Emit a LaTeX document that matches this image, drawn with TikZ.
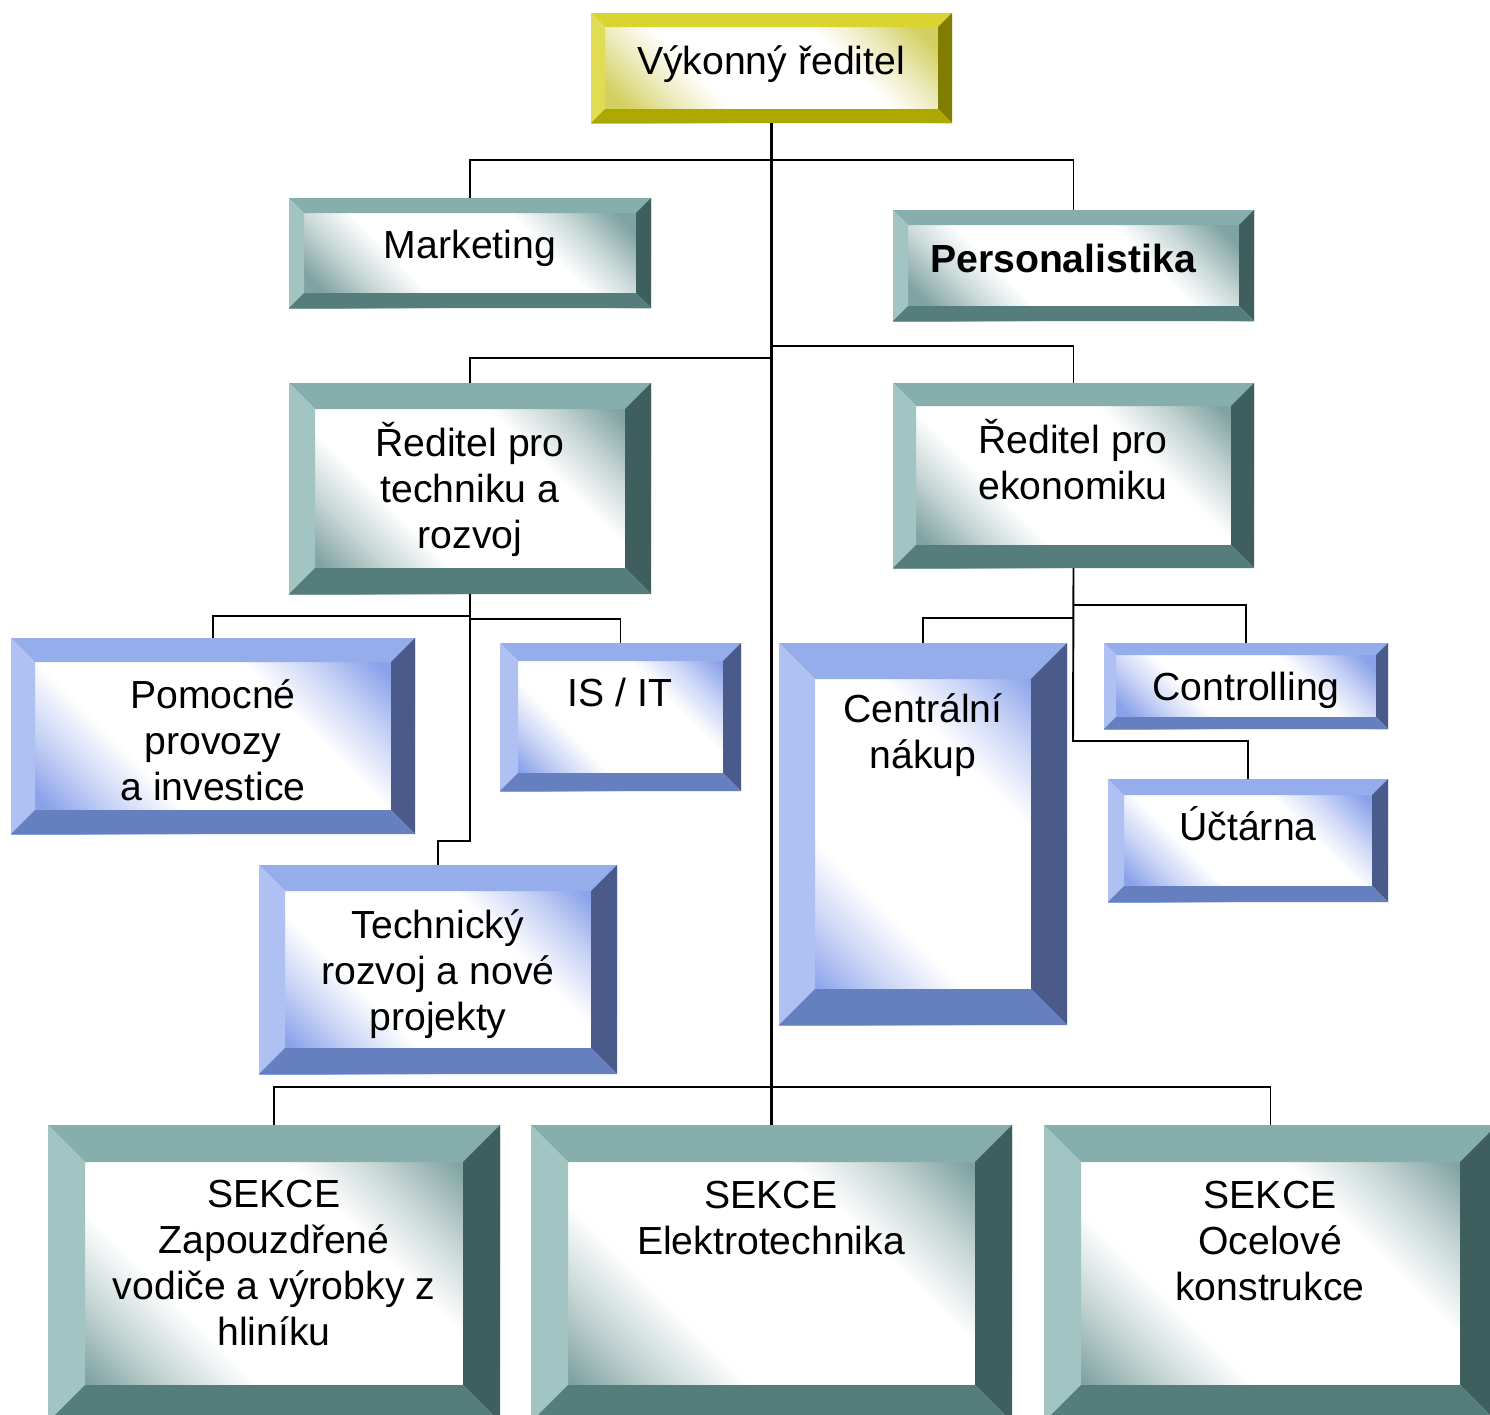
\documentclass[tikz,border=0pt]{standalone}
\usepackage{fontspec}
\setmainfont{Liberation Sans}
\usepackage{tikz}
\usetikzlibrary{positioning,fit,calc}
\definecolor{tltop}{HTML}{86AEAC}
\definecolor{tlleft}{HTML}{A2C4C2}
\definecolor{tlright}{HTML}{3F5E5E}
\definecolor{tlbot}{HTML}{547D7B}
\definecolor{tlgrad}{HTML}{7FA3A1}
\definecolor{bltop}{HTML}{95AEEB}
\definecolor{blleft}{HTML}{AEC1F2}
\definecolor{blright}{HTML}{4A5B8B}
\definecolor{blbot}{HTML}{667FBF}
\definecolor{blgrad}{HTML}{8AA2EA}
\definecolor{yltop}{HTML}{D9D430}
\definecolor{ylleft}{HTML}{E0DD55}
\definecolor{ylright}{HTML}{807D00}
\definecolor{ylbot}{HTML}{ACA800}
\definecolor{ylgrad}{HTML}{D3CF60}
\pgfdeclareverticalshading{tealfade}{100bp}{color(0bp)=(tlgrad); color(22bp)=(tlgrad);
  color(30bp)=(tlgrad!45!white); color(38bp)=(white); color(62bp)=(white);
  color(70bp)=(tlgrad!45!white); color(78bp)=(tlgrad); color(100bp)=(tlgrad)}
\pgfdeclareverticalshading{bluefade}{100bp}{color(0bp)=(blgrad); color(22bp)=(blgrad);
  color(30bp)=(blgrad!45!white); color(38bp)=(white); color(62bp)=(white);
  color(70bp)=(blgrad!45!white); color(78bp)=(blgrad); color(100bp)=(blgrad)}
\pgfdeclareverticalshading{goldfade}{100bp}{color(0bp)=(ylgrad); color(22bp)=(ylgrad);
  color(30bp)=(ylgrad!45!white); color(38bp)=(white); color(62bp)=(white);
  color(70bp)=(ylgrad!45!white); color(78bp)=(ylgrad); color(100bp)=(ylgrad)}
\tikzset{
  bev/.store in=\bevw,
  bev=15,
  bevelbox/.style={
    inner sep=0pt,
    outer sep=0pt,
    path picture={
      \path (path picture bounding box.north west) coordinate (p1)
            (path picture bounding box.north east) coordinate (p2)
            (path picture bounding box.south east) coordinate (p3)
            (path picture bounding box.south west) coordinate (p4);
      \path ([shift={(\bevw,\bevw)}]p1) coordinate (q1)
            ([shift={(-\bevw,\bevw)}]p2) coordinate (q2)
            ([shift={(-\bevw,-\bevw)}]p3) coordinate (q3)
            ([shift={(\bevw,-\bevw)}]p4) coordinate (q4);
      \fill[bvtop] (p1) -- (p2) -- (q2) -- (q1) -- cycle;
      \fill[bvleft] (p1) -- (q1) -- (q4) -- (p4) -- cycle;
      \fill[bvright] (p2) -- (p3) -- (q3) -- (q2) -- cycle;
      \fill[bvbot] (p4) -- (q4) -- (q3) -- (p3) -- cycle;
    }
  },
  tealbox/.style={
    bevelbox,
    shading=tealfade, shading angle=135,
    bvtop/.style={fill=tltop}, bvleft/.style={fill=tlleft},
    bvright/.style={fill=tlright}, bvbot/.style={fill=tlbot}
  },
  bluebox/.style={
    bevelbox,
    shading=bluefade, shading angle=135,
    bvtop/.style={fill=bltop}, bvleft/.style={fill=blleft},
    bvright/.style={fill=blright}, bvbot/.style={fill=blbot}
  },
  goldbox/.style={
    bevelbox,
    shading=goldfade, shading angle=135,
    bvtop/.style={fill=yltop}, bvleft/.style={fill=ylleft},
    bvright/.style={fill=ylright}, bvbot/.style={fill=ylbot}
  },
  boxtext/.style={
    align=center,
    anchor=base,
    inner sep=0pt,
    font=\fontsize{22.3}{26.1}\selectfont
  },
  link/.style={
    draw=black,
    line width=1.1pt
  },
  trunk/.style={
    draw=black,
    line width=1.6pt
  }
}

\begin{document}
\begin{tikzpicture}[x=0.02cm, y=-0.02cm]
  \useasboundingbox (0,0) rectangle (1490,1414);

  % boxes
  \node[goldbox, bev=14, fit={(591,13) (952,123)}] (ceo) {};
  \node[tealbox, bev=15, fit={(289,198) (651,308)}] (mkt) {};
  \node[tealbox, bev=15, fit={(893,210) (1254,321)}] (pers) {};
  \node[tealbox, bev=26, fit={(289,383) (651,594)}] (rtech) {};
  \node[tealbox, bev=23, fit={(893,383) (1254,568)}] (reko) {};
  \node[bluebox, bev=24, fit={(11,638) (415,834)}] (pomoc) {};
  \node[bluebox, bev=18, fit={(500,643) (741,791)}] (isit) {};
  \node[bluebox, bev=26, fit={(259,865) (617,1074)}] (tech) {};
  \node[bluebox, bev=36, fit={(779,643) (1067,1025)}] (nakup) {};
  \node[bluebox, bev=12, fit={(1104,643) (1388,729)}] (ctrl) {};
  \node[bluebox, bev=16, fit={(1108,779) (1388,902)}] (uct) {};
  \node[tealbox, bev=37, fit={(48,1125) (500,1422)}] (s1) {};
  \node[tealbox, bev=37, fit={(531,1125) (1012,1422)}] (s2) {};
  \node[tealbox, bev=37, fit={(1044,1125) (1497,1422)}] (s3) {};

  % texts (base = last line)
  \node[boxtext] (ceo-t) at (771,74) {Výkonný ředitel};
  \node[boxtext] (mkt-t) at (470,258) {Marketing};
  \node[boxtext, font=\fontsize{22.3}{26.1}\selectfont\bfseries] (pers-t) at (1063,272) {Personalistika};
  \node[boxtext] (rtech-t) at (470,548) {Ředitel pro\\techniku a\\rozvoj};
  \node[boxtext] (reko-t) at (1073,499) {Ředitel pro\\ekonomiku};
  \node[boxtext] (pomoc-t) at (213,800) {Pomocné\\provozy\\a investice};
  \node[boxtext] (isit-t) at (620,706) {IS / IT};
  \node[boxtext] (tech-t) at (438,1030) {Technický\\rozvoj a nové\\projekty};
  \node[boxtext] (nakup-t) at (923,768) {Centrální\\nákup};
  \node[boxtext] (ctrl-t) at (1246,700) {Controlling};
  \node[boxtext] (uct-t) at (1248,840) {Účtárna};
  \node[boxtext] (s1-t) at (274,1345) {SEKCE\\Zapouzdřené\\vodiče a výrobky z\\hliníku};
  \node[boxtext] (s2-t) at (771,1254) {SEKCE\\Elektrotechnika};
  \node[boxtext] (s3-t) at (1270,1300) {SEKCE\\Ocelové\\konstrukce};

  % junctions
  \coordinate (j1) at (771,160);
  \coordinate (j2) at (771,358);
  \coordinate (j3) at (771,346);
  \coordinate (t1) at (470,616);
  \coordinate (t2) at (470,619);
  \coordinate (t3) at (470,841);
  \coordinate (e1) at (1073,618);
  \coordinate (e2) at (1073,605);
  \coordinate (e3) at (1073,741);
  \coordinate (b1) at (771,1087);

  % connectors
  \draw[trunk] (ceo.south) -- (s2.north);
  \draw[link] (mkt.north) |- (j1) -| (pers.north);
  \draw[link] (rtech.north) |- (j2);
  \draw[link] (j3) -| (reko.north);
  \draw[link] (pomoc.north) |- (t1);
  \draw[link] (rtech.south) -- (t3) -| (tech.north);
  \draw[link] (t2) -| (isit.north);
  \draw[link] (reko.south) -- (e3) -| (uct.north);
  \draw[link] (nakup.north) |- (e1);
  \draw[link] (e2) -| (ctrl.north);
  \draw[link] (s1.north) |- (b1) -| (s3.north);
\end{tikzpicture}
\end{document}
